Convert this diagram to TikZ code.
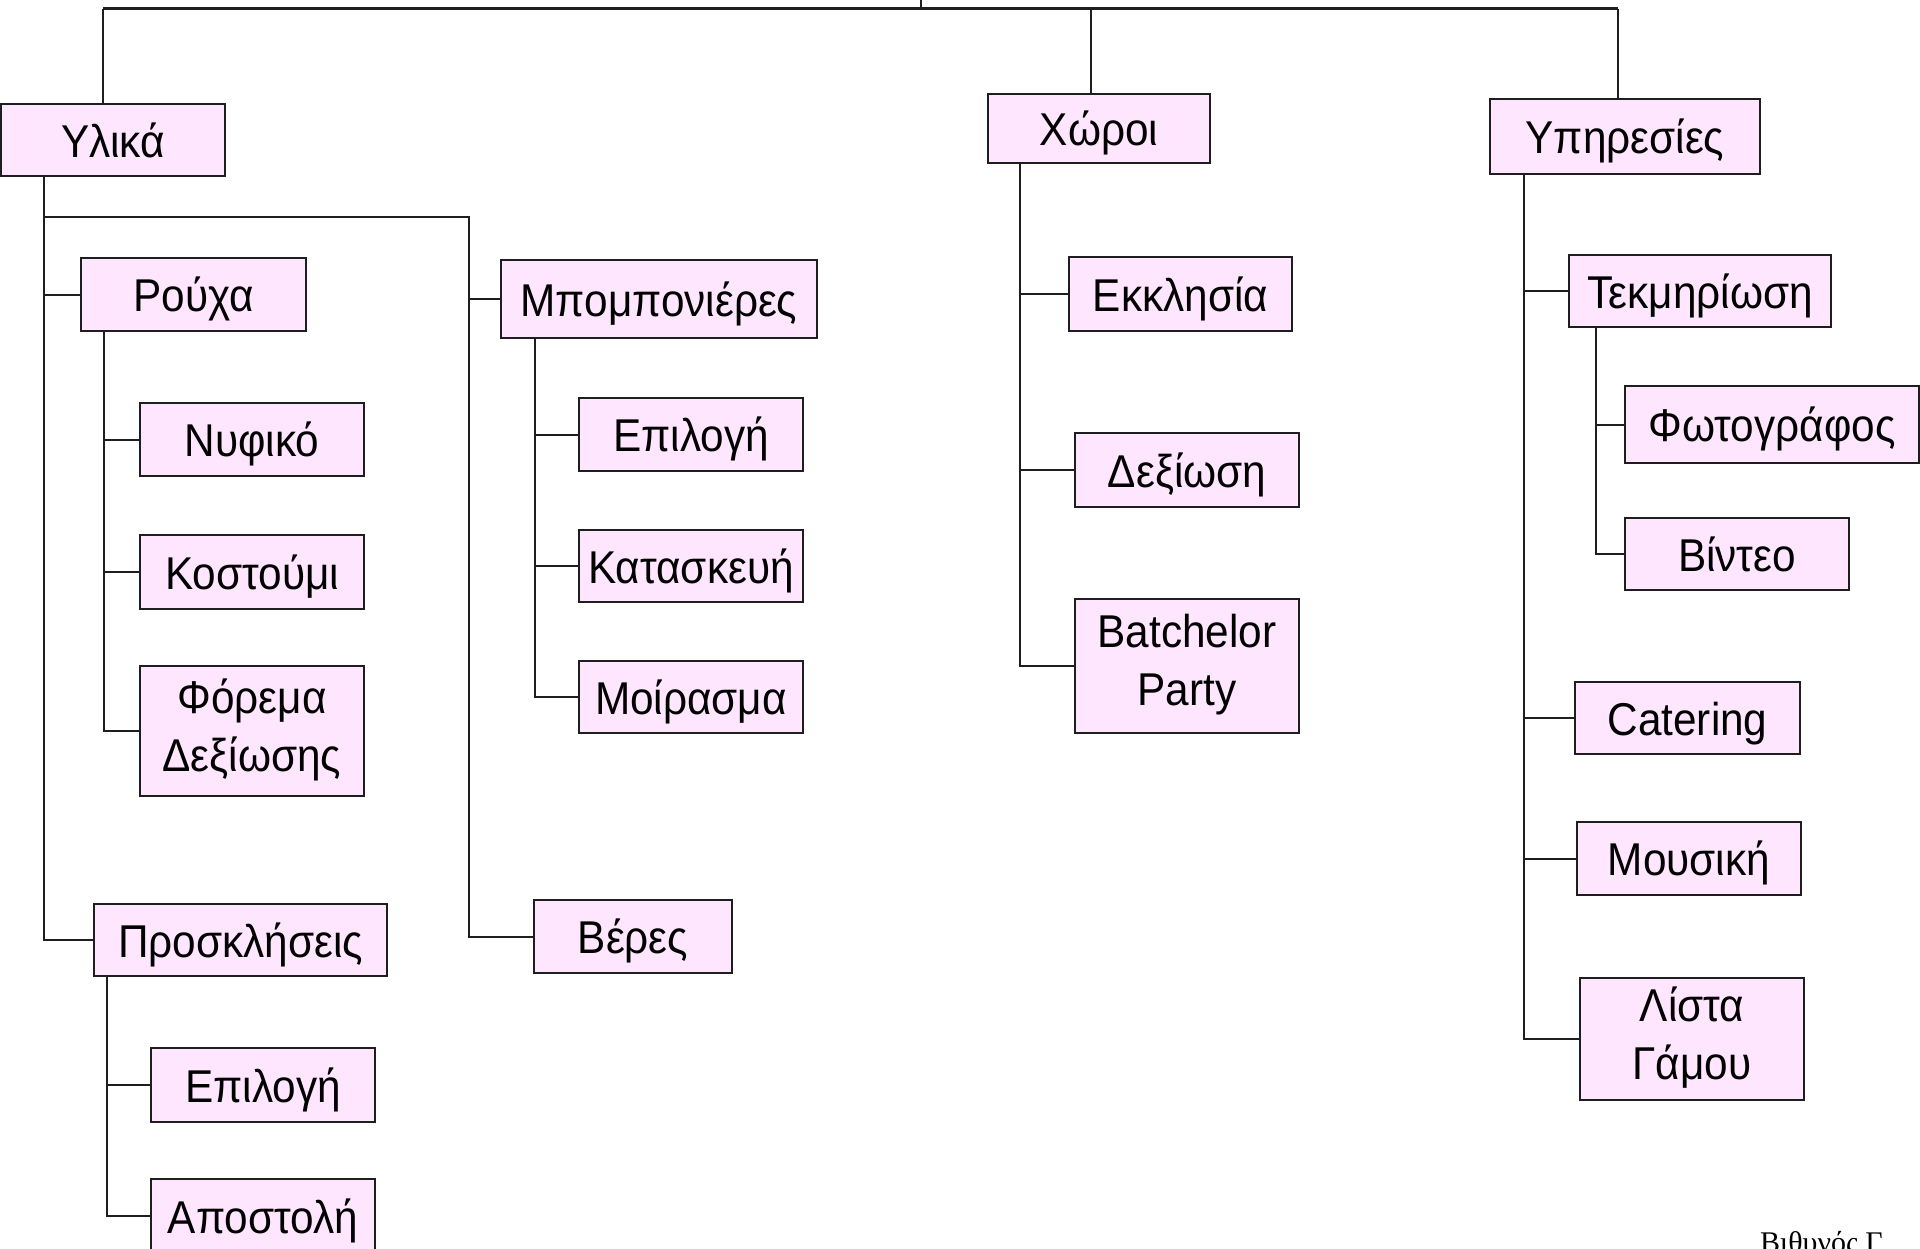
\documentclass[tikz,border=0pt]{standalone}
\usepackage{fontspec}
\setmainfont{Liberation Sans}[FakeStretch=0.92]
\newfontfamily\sigfont{Liberation Serif}
\definecolor{boxfill}{RGB}{255,230,255}
\definecolor{boxline}{RGB}{30,30,30}
\tikzset{
  bx/.style={draw=boxline, fill=boxfill, line width=2.5pt, inner sep=0pt, align=center,
    font=\fontsize{46}{58}\selectfont,
    execute at begin node={\rule{0pt}{46pt}},
    execute at end node={\rule[-12pt]{0pt}{12pt}}},
  conn/.style={draw=boxline, line width=2pt},
}
\begin{document}
\begin{tikzpicture}[x=1pt,y=-1pt]
\useasboundingbox (0,0) rectangle (1920,1248);
\clip (0,0) rectangle (1920,1248);
% level 1
\node[bx, minimum width=224pt, minimum height=72pt] (ylika) at (113,140) {Υλικά};
\node[bx, minimum width=222pt, minimum height=69pt] (choroi) at (1099,128.5) {Χώροι};
\node[bx, minimum width=270pt, minimum height=75pt] (yphr) at (1625,136.5) {Υπηρεσίες};
% Υλικά
\node[bx, minimum width=225pt, minimum height=73pt] (rouxa) at (193.5,294.5) {Ρούχα};
\node[bx, minimum width=316pt, minimum height=78pt] (mpomp) at (659,299) {Μπομπονιέρες};
\node[bx, minimum width=224pt, minimum height=73pt] (nyfiko) at (252,439.5) {Νυφικό};
\node[bx, minimum width=224pt, minimum height=74pt] (kostoumi) at (252,572) {Κοστούμι};
\node[bx, minimum width=224pt, minimum height=130pt] (forema) at (252,731) {Φόρεμα\\Δεξίωσης};
\node[bx, minimum width=293pt, minimum height=72pt] (prosk) at (240.5,940) {Προσκλήσεις};
\node[bx, minimum width=224pt, minimum height=74pt] (epil1) at (263,1085) {Επιλογή};
\node[bx, minimum width=224pt, minimum height=74pt] (apost) at (263,1216) {Αποστολή};
\node[bx, minimum width=224pt, minimum height=73pt] (epil2) at (691,434.5) {Επιλογή};
\node[bx, minimum width=224pt, minimum height=72pt] (kataskevi) at (691,566) {Κατασκευή};
\node[bx, minimum width=224pt, minimum height=72pt] (moirasma) at (691,697) {Μοίρασμα};
\node[bx, minimum width=198pt, minimum height=73pt] (veres) at (633,936.5) {Βέρες};
% Χώροι
\node[bx, minimum width=223pt, minimum height=74pt] (ekklisia) at (1180.5,294) {Εκκλησία};
\node[bx, minimum width=224pt, minimum height=74pt] (dexiosi) at (1187,470) {Δεξίωση};
\node[bx, minimum width=224pt, minimum height=134pt] (batch) at (1187,666) {Batchelor\\Party};
% Υπηρεσίες
\node[bx, minimum width=262pt, minimum height=72pt] (tekm) at (1700,291) {Τεκμηρίωση};
\node[bx, minimum width=294pt, minimum height=77pt] (foto) at (1772,424.5) {Φωτογράφος};
\node[bx, minimum width=224pt, minimum height=72pt] (vinteo) at (1737,554) {Βίντεο};
\node[bx, minimum width=225pt, minimum height=72pt] (catering) at (1687.5,718) {Catering};
\node[bx, minimum width=224pt, minimum height=73pt] (mousiki) at (1689,858.5) {Μουσική};
\node[bx, minimum width=224pt, minimum height=122pt] (lista) at (1692,1039) {Λίστα\\Γάμου};
% signature
\node[anchor=base west, inner sep=0pt, font=\sigfont\fontsize{30}{36}\selectfont] (sig) at (1760,1252) {Βιθυνός Γ};
% coordinates
\coordinate (root) at (921,0);
\coordinate (busL) at (103,8.6);
\coordinate (busR) at (1618,8.6);
\coordinate (bchor) at (1091,8.6);
\coordinate (t1) at (44,0);
\coordinate (br) at (469,217);
\coordinate (t2) at (104,0);
\coordinate (t3) at (107,0);
\coordinate (t4) at (535,0);
\coordinate (t5) at (1020,0);
\coordinate (t6) at (1524,0);
\coordinate (t7) at (1596,0);
% top bus
\draw[conn, line width=2.6pt] (busL) -- (busR);
\draw[conn] (root) -- (root |- busL);
\draw[conn] (busL) -- (ylika.north -| busL);
\draw[conn] (bchor) -- (choroi.north -| bchor);
\draw[conn] (busR) -- (yphr.north -| busR);
% Υλικά
\draw[conn] (ylika.south -| t1) |- (prosk.west);
\draw[conn] (rouxa.west -| t1) -- (rouxa.west);
\draw[conn] (br -| t1) -- (br) |- (veres.west);
\draw[conn] (mpomp.west -| br) -- (mpomp.west);
% Ρούχα
\draw[conn] (rouxa.south -| t2) |- (forema.west);
\draw[conn] (nyfiko.west -| t2) -- (nyfiko.west);
\draw[conn] (kostoumi.west -| t2) -- (kostoumi.west);
% Προσκλήσεις
\draw[conn] (prosk.south -| t3) |- (apost.west);
\draw[conn] (epil1.west -| t3) -- (epil1.west);
% Μπομπονιέρες
\draw[conn] (mpomp.south -| t4) |- (moirasma.west);
\draw[conn] (epil2.west -| t4) -- (epil2.west);
\draw[conn] (kataskevi.west -| t4) -- (kataskevi.west);
% Χώροι
\draw[conn] (choroi.south -| t5) |- (batch.west);
\draw[conn] (ekklisia.west -| t5) -- (ekklisia.west);
\draw[conn] (dexiosi.west -| t5) -- (dexiosi.west);
% Υπηρεσίες
\draw[conn] (yphr.south -| t6) |- (lista.west);
\draw[conn] (tekm.west -| t6) -- (tekm.west);
\draw[conn] (catering.west -| t6) -- (catering.west);
\draw[conn] (mousiki.west -| t6) -- (mousiki.west);
% Τεκμηρίωση
\draw[conn] (tekm.south -| t7) |- (vinteo.west);
\draw[conn] (foto.west -| t7) -- (foto.west);
\end{tikzpicture}
\end{document}
